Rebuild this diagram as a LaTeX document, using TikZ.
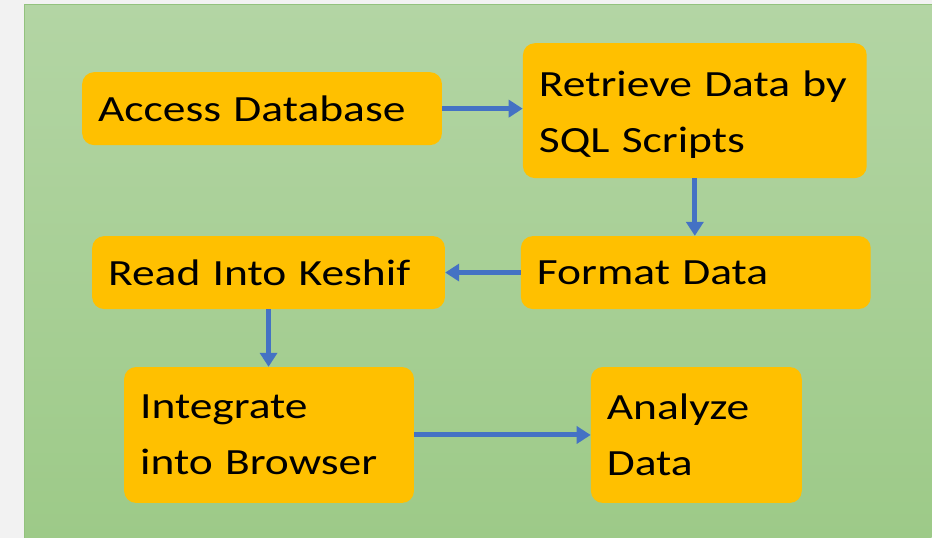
\documentclass[tikz,border=0pt]{standalone}
\usepackage{fontspec}
\setmainfont{Carlito}[FakeStretch=1.23]
\usetikzlibrary{arrows.meta}
\definecolor{boxorange}{HTML}{FFC000}
\definecolor{flowblue}{HTML}{4472C4}
\definecolor{greentop}{HTML}{B3D5A4}
\definecolor{greenbot}{HTML}{9DCA88}
\definecolor{paneledge}{HTML}{93C27E}

\begin{document}
\begin{tikzpicture}[x=1pt,y=-1pt,
	stage/.style={rectangle, rounded corners=12pt, fill=boxorange, anchor=north west,
		inner xsep=16pt, inner ysep=0pt, align=left, font=\fontsize{37}{56}\selectfont},
	flow/.style={flowblue, line width=5pt, -{Triangle[length=14pt,width=17pt]}}]
	% backdrop
	\fill[black!5] (0,0) rectangle (932,538);
	\shade[top color=greentop, bottom color=greenbot] (25,5) rectangle (932,538);
	\draw[paneledge, line width=1pt] (25,538) -- (25,5) -- (932,5);
	
	% stages
	\node[stage, minimum width=360pt, text width=328pt, minimum height=73pt] (access) at (82,72) {Access Database};
	\node[stage, minimum width=344pt, text width=312pt, minimum height=135pt, text depth=53pt] (retrieve) at (523,43) {Retrieve Data by\\SQL Scripts};
	\node[stage, minimum width=350pt, text width=318pt, minimum height=73pt] (format) at (521,236) {Format Data};
	\node[stage, minimum width=353pt, text width=321pt, minimum height=73pt] (keshif) at (92,236) {Read Into Keshif};
	\node[stage, minimum width=290pt, text width=258pt, minimum height=136pt] (integrate) at (124,367) {Integrate\\into Browser};
	\node[stage, minimum width=211pt, text width=179pt, minimum height=136pt] (analyze) at (591,367) {Analyze\\Data};
	
	% flow
	\draw[flow] (access.east) -- (access.east -| retrieve.west);
	\draw[flow] (retrieve.south) -- (retrieve.south |- format.north);
	\draw[flow] (format.west) -- (keshif.east);
	\draw[flow] (keshif.south) -- (keshif.south |- integrate.north);
	\draw[flow] (integrate.east) -- (analyze.west);
\end{tikzpicture}
\end{document}
